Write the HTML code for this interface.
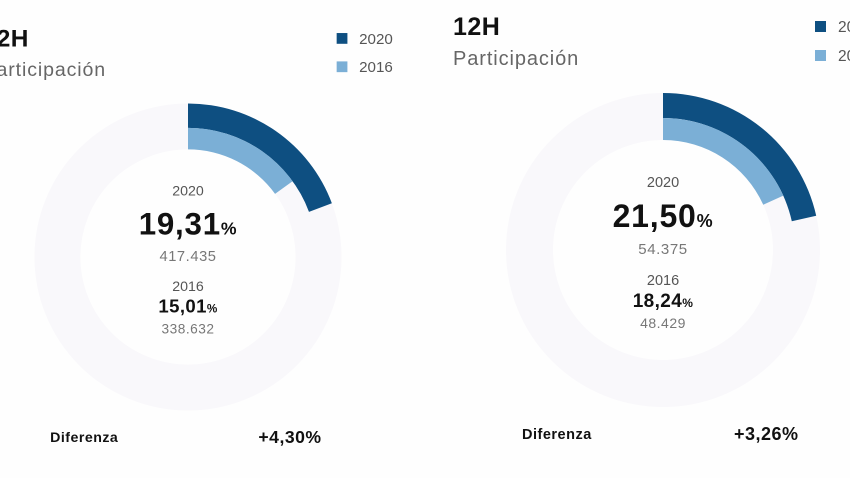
<!DOCTYPE html>
<html>
<head>
<meta charset="utf-8">
<style>
  html, body { margin:0; padding:0; background:#fefefe; }
  body { width:850px; height:478px; overflow:hidden; }
  svg { display:block; font-family:"Liberation Sans", Arial, sans-serif; }
</style>
</head>
<body>
<svg width="850" height="478" viewBox="0 0 850 478" xmlns="http://www.w3.org/2000/svg">
  <rect width="850" height="478" fill="#fefefe"/>

  <!-- LEFT PANEL -->
  <g transform="translate(188,257) scale(0.978)">
    <circle cx="0" cy="0" r="133.5" fill="none" stroke="#f9f8fb" stroke-width="47"/>
    <path d="M0,-157 A157,157 0 0 1 147.1,-54.9 L123.7,-46.2 A132,132 0 0 0 0,-132 Z" fill="#0e4f81"/>
    <path d="M0,-132 A132,132 0 0 1 106.9,-77.5 L89.0,-64.6 A110,110 0 0 0 0,-110 Z" fill="#7bafd6"/>

    <text x="-210" y="-215" font-size="25" font-weight="bold" fill="#111" letter-spacing="0.5">12H</text>
    <text x="-210" y="-185" font-size="20" fill="#666" letter-spacing="0.9">Participación</text>

    <rect x="152" y="-229" width="11" height="11" fill="#0e4f81"/>
    <text x="175" y="-218" font-size="15.5" fill="#555">2020</text>
    <rect x="152" y="-200" width="11" height="11" fill="#7bafd6"/>
    <text x="175" y="-189" font-size="15.5" fill="#555">2016</text>

    <text x="0" y="-63" font-size="14.5" fill="#555" text-anchor="middle">2020</text>
    <text x="0" y="-23" font-size="32" font-weight="bold" fill="#111" text-anchor="middle" letter-spacing="0.8">19,31<tspan font-size="18">%</tspan></text>
    <text x="0" y="4" font-size="15" fill="#777" text-anchor="middle" letter-spacing="0.6">417.435</text>
    <text x="0" y="35" font-size="14.5" fill="#555" text-anchor="middle">2016</text>
    <text x="0" y="57" font-size="19" font-weight="bold" fill="#111" text-anchor="middle" letter-spacing="0.4">15,01<tspan font-size="12">%</tspan></text>
    <text x="0" y="78" font-size="14" fill="#777" text-anchor="middle" letter-spacing="0.5">338.632</text>

    <text x="-141" y="189" font-size="14.5" font-weight="bold" fill="#111" letter-spacing="0.5">Diferenza</text>
    <text x="72" y="190" font-size="18" font-weight="bold" fill="#111" letter-spacing="0.5">+4,30%</text>
  </g>

  <!-- RIGHT PANEL -->
  <g transform="translate(663,250)">
    <circle cx="0" cy="0" r="133.5" fill="none" stroke="#f9f8fb" stroke-width="47"/>
    <path d="M0,-157 A157,157 0 0 1 153.2,-34.2 L128.8,-28.8 A132,132 0 0 0 0,-132 Z" fill="#0e4f81"/>
    <path d="M0,-132 A132,132 0 0 1 120.3,-54.4 L100.2,-45.3 A110,110 0 0 0 0,-110 Z" fill="#7bafd6"/>

    <text x="-210" y="-215" font-size="25" font-weight="bold" fill="#111" letter-spacing="0.5">12H</text>
    <text x="-210" y="-185" font-size="20" fill="#666" letter-spacing="0.9">Participación</text>

    <rect x="152" y="-229" width="11" height="11" fill="#0e4f81"/>
    <text x="175" y="-218" font-size="15.5" fill="#555">2020</text>
    <rect x="152" y="-200" width="11" height="11" fill="#7bafd6"/>
    <text x="175" y="-189" font-size="15.5" fill="#555">2016</text>

    <text x="0" y="-63" font-size="14.5" fill="#555" text-anchor="middle">2020</text>
    <text x="0" y="-23" font-size="32" font-weight="bold" fill="#111" text-anchor="middle" letter-spacing="0.8">21,50<tspan font-size="18">%</tspan></text>
    <text x="0" y="4" font-size="15" fill="#777" text-anchor="middle" letter-spacing="0.6">54.375</text>
    <text x="0" y="35" font-size="14.5" fill="#555" text-anchor="middle">2016</text>
    <text x="0" y="57" font-size="19" font-weight="bold" fill="#111" text-anchor="middle" letter-spacing="0.4">18,24<tspan font-size="12">%</tspan></text>
    <text x="0" y="78" font-size="14" fill="#777" text-anchor="middle" letter-spacing="0.5">48.429</text>

    <text x="-141" y="189" font-size="14.5" font-weight="bold" fill="#111" letter-spacing="0.5">Diferenza</text>
    <text x="71" y="190" font-size="18" font-weight="bold" fill="#111" letter-spacing="0.5">+3,26%</text>
  </g>
</svg>
</body>
</html>
